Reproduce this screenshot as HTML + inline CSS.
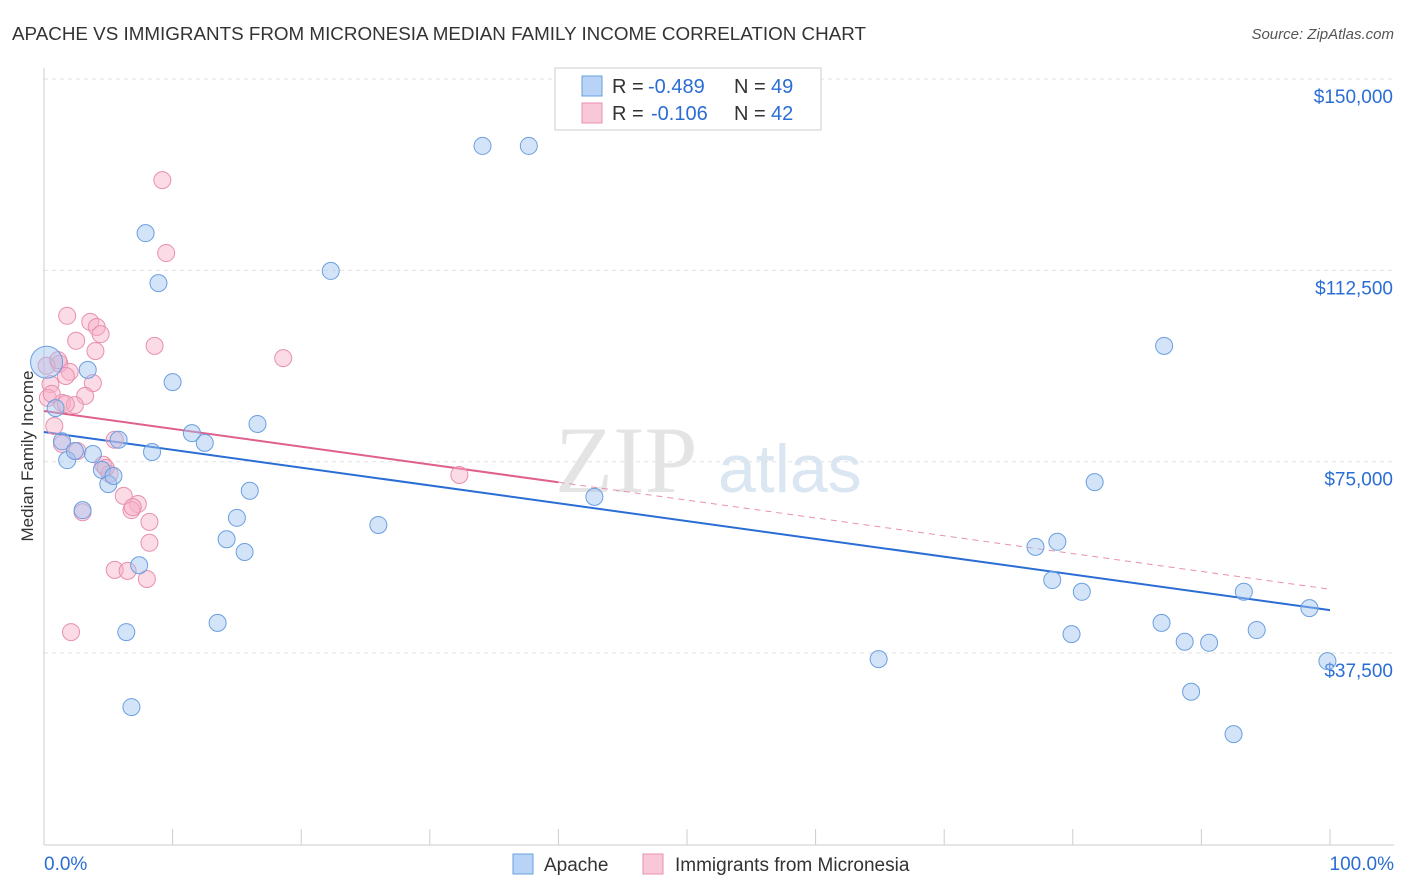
<!DOCTYPE html>
<html><head><meta charset="utf-8"><style>
body{margin:0;background:#fff;font-family:"Liberation Sans",sans-serif}
svg{display:block}
</style></head><body>
<svg id="chart" width="1406" height="892" xmlns="http://www.w3.org/2000/svg">
<text x="12" y="40" font-size="18" fill="#333" textLength="854" lengthAdjust="spacingAndGlyphs">APACHE VS IMMIGRANTS FROM MICRONESIA MEDIAN FAMILY INCOME CORRELATION CHART</text>
<text x="1394" y="39" font-size="15" fill="#555" font-style="italic" text-anchor="end">Source: ZipAtlas.com</text>
<text transform="translate(33,456) rotate(-90)" font-size="17" fill="#333" text-anchor="middle">Median Family Income</text>
<text x="555" y="492" font-size="95" fill="#e4e4e4" font-family="Liberation Serif">ZIP</text>
<text x="718" y="492" font-size="68" fill="#dbe6f3">atlas</text>
<g id="grid"></g><g id="lines"></g><g id="pts"></g>
<g font-size="20">
<rect x="555" y="68" width="266" height="62" fill="#fff" stroke="#ccc"/>
<rect x="582" y="76" width="20" height="20" fill="#b8d3f5" stroke="#6a9fe0"/>
<text x="612" y="93" fill="#333">R =</text><text x="648" y="93" fill="#2a6dd4">-0.489</text>
<text x="734" y="93" fill="#333">N =</text><text x="771" y="93" fill="#2a6dd4">49</text>
<rect x="582" y="103" width="20" height="20" fill="#f9c8d8" stroke="#e890ad"/>
<text x="612" y="120" fill="#333">R =</text><text x="651" y="120" fill="#2a6dd4">-0.106</text>
<text x="734" y="120" fill="#333">N =</text><text x="771" y="120" fill="#2a6dd4">42</text>
</g>
<g>
<rect x="513" y="854" width="20" height="20" fill="#b8d3f5" stroke="#6a9fe0"/>
<text x="544" y="871" font-size="19" fill="#333">Apache</text>
<rect x="643" y="854" width="20" height="20" fill="#f9c8d8" stroke="#e890ad"/>
<text x="675" y="871" font-size="19" fill="#333">Immigrants from Micronesia</text>
</g>
</svg>
<script>
const yTicks=[37500,75000,112500,150000];
const yTickLabels=["$37,500","$75,000","$112,500","$150,000"];
const xTickLabels=["0.0%","100.0%"];
const apacheX=[0.2,0.9,1.4,1.8,2.4,3.4,3.8,4.5,5.0,5.4,5.8,3.0,6.4,6.8,7.4,7.9,8.4,8.9,10.0,11.5,12.5,13.5,14.2,15.0,15.6,16.0,16.6,22.3,26.0,34.1,37.7,42.8,64.9,77.1,78.4,78.8,79.9,80.7,81.7,86.9,87.1,88.7,89.2,90.6,92.5,93.3,94.3,98.4,99.8];
const apacheY=[94500,85500,79000,75300,77100,93000,76500,73400,70600,72200,79300,65500,41600,26900,54700,119800,76900,110000,90600,80600,78700,43400,59800,64000,57300,69300,82400,112400,62600,136900,136900,68100,36300,58300,51800,59300,41200,49500,71000,43400,97700,39700,29900,39500,21600,49500,42000,46300,35900];
const microX=[9.2,9.5,8.6,1.8,3.6,4.1,4.4,2.5,4.0,18.6,1.2,2.0,1.7,3.8,0.5,3.2,0.3,1.4,2.4,0.8,1.4,4.6,5.1,5.5,6.2,7.3,6.8,8.2,8.2,5.5,6.5,8.0,2.1,32.3,3.0,0.6,0.2,1.1,1.7,4.8,2.6,6.9];
const microY=[130200,115900,97700,103600,102400,101400,100000,98700,96700,95300,94200,92600,91800,90400,90200,87900,87500,86500,86100,82000,78500,74400,72600,79300,68300,66700,65500,63200,59100,53800,53600,52000,41600,72400,65100,88300,93800,94900,86300,73800,77100,66100];
const apacheTrend=[80820,45900];
const microTrend=[84940,50000];
const NS="http://www.w3.org/2000/svg";
const X=v=>44+v*12.86;
const Y=v=>653-(v-37500)/37500*191.3;
function mk(t,a,p){const e=document.createElementNS(NS,t);for(const k in a)e.setAttribute(k,a[k]);p.appendChild(e);return e;}
const g=document.getElementById('grid');
yTicks.forEach((t,i)=>{
 const l=mk('line',{x1:44,x2:1394,y1:Y(t),y2:Y(t),stroke:'#e2e2e2','stroke-dasharray':'4,4'},g);
 
 
 const tx=mk('text',{x:1393,y:Y(t)+24,'font-size':19,fill:'#2a6dd4','text-anchor':'end'},g);
 tx.textContent=yTickLabels[i];
 
 
});
const ax=mk('line',{x1:44,x2:44,y1:68,y2:845,stroke:'#ccc'},g);


const bx=mk('line',{x1:44,x2:1394,y1:845,y2:845,stroke:'#ccc'},g);


for(let i=0;i<=10;i++){const t=mk('line',{x1:X(i*10),x2:X(i*10),y1:829,y2:845,stroke:'#ccc'},g);
 
 }
[[0,'start',44],[100,'end',1394]].forEach((d,i)=>{const t=mk('text',{x:d[2],y:870,'font-size':19,fill:'#2a6dd4','text-anchor':d[1]},g);t.textContent=xTickLabels[i];
 
 });
const L=document.getElementById('lines');
const ty=(tr,x)=>tr[0]+(tr[1]-tr[0])*x/100;
let a=mk('line',{x1:X(0),y1:Y(ty(apacheTrend,0)),x2:X(100),y2:Y(ty(apacheTrend,100)),stroke:'#2a6dd4','stroke-width':2},L);


let m=mk('line',{x1:X(0),y1:Y(ty(microTrend,0)),x2:X(40),y2:Y(ty(microTrend,40)),stroke:'#e0608c','stroke-width':2},L);


let m2=mk('line',{x1:X(40),y1:Y(ty(microTrend,40)),x2:X(100),y2:Y(ty(microTrend,100)),stroke:'#e890ad','stroke-width':1,'stroke-dasharray':'6,5'},L);


const P=document.getElementById('pts');
microX.forEach((x,i)=>{const c=mk('circle',{cx:X(x),cy:Y(microY[i]),r:8.5,fill:'rgba(246,176,200,0.45)',stroke:'#e890ad','stroke-width':1},P);
 
 });
apacheX.forEach((x,i)=>{const c=mk('circle',{cx:X(x),cy:Y(apacheY[i]),r:i===0?16:8.5,fill:'rgba(160,196,240,0.45)',stroke:'#6a9fe0','stroke-width':1},P);
 
 });
</script>
</body></html>
